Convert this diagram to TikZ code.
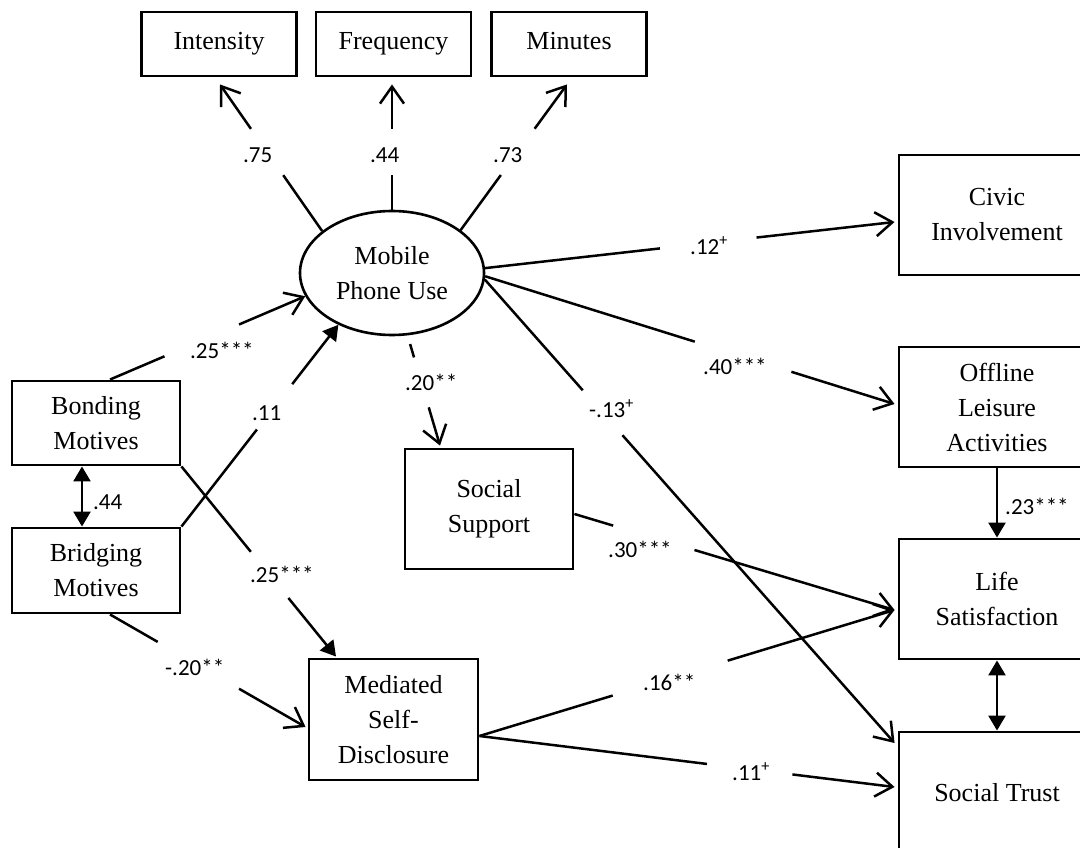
\documentclass[tikz,border=0pt]{standalone}
\usepackage{fontspec}
\setmainfont{Liberation Serif}
\newfontfamily\coeffont{Carlito}
\usetikzlibrary{arrows.meta,calc,shapes.geometric}

\newcommand\boxfont{\fontsize{26}{35}\selectfont}
\newcommand\labfont{\coeffont\fontsize{23}{26}\selectfont}

% A path interrupted by a gap for its coefficient:
% #1 options of the first piece, #2 options of the second piece,
% #3 start, #4 end, #5 and #6 fractions where the gap begins and ends
\newcommand\splitlink[6]{%
  \draw[link,#1] (#3) -- ($(#3)!#5!(#4)$);
  \draw[link,#2] ($(#3)!#6!(#4)$) -- (#4);
}

\tikzset{
  box/.style={draw, rectangle, line width=2.9pt, inner sep=0pt, align=center, font=\boxfont},
  topbox/.style={box, minimum width=155pt, minimum height=64pt, text height=18pt, text depth=6pt},
  sidebox/.style={box, minimum width=196pt, minimum height=120pt},
  midbox/.style={box, minimum width=168pt},
  link/.style={line width=2.5pt, line cap=butt},
  open/.style={-{Straight Barb[length=17pt,width=24pt]}},
  filledtip/.style={-{Triangle[length=15pt,width=17pt]}},
  filledboth/.style={{Triangle[length=15pt,width=17pt]}-{Triangle[length=15pt,width=17pt]}},
  coef/.style={font=\labfont, inner sep=0pt, anchor=base west},
}

\begin{document}
\begin{tikzpicture}[x=1pt,y=-1pt]
\useasboundingbox (0,0) rectangle (1080,848);
\clip (0,0) rectangle (1080,848);
\fill[white] (0,0) rectangle (1080,848);

% indicators
\node[topbox] (intensity) at (219,44) {Intensity};
\node[topbox] (frequency) at (393.5,44) {Frequency};
\node[topbox] (minutes) at (569,44) {Minutes};

% latent variable
\node[draw, ellipse, line width=2.6pt, minimum width=184pt, minimum height=124pt,
      inner sep=0pt, align=center, font=\boxfont] (mpu) at (392,273) {Mobile\\Phone Use};

% outcomes
\node[sidebox] (civic) at (997,215) {Civic\\Involvement};
\node[sidebox] (offline) at (997,407) {Offline\\Leisure\\Activities};
\node[sidebox] (life) at (997,599) {Life\\Satisfaction};
\node[sidebox, minimum height=122pt] (trust) at (997,793) {Social Trust};

% motives and mediators
\node[midbox, minimum height=84pt] (bonding) at (96,423) {Bonding\\Motives};
\node[midbox, minimum height=85pt] (bridging) at (96,570.5) {Bridging\\Motives};
\node[midbox, minimum height=120pt] (support) at (489,509) {Social\\Support};
\node[midbox, minimum width=169pt, minimum height=121pt] (mediated) at (393.5,719.5) {Mediated\\Self-\\Disclosure};

% end points of the paths
\coordinate (intIn) at ($(intensity.south)+(1,7)$);
\coordinate (freqIn) at ($(frequency.south)+(-1.5,7)$);
\coordinate (minIn) at ($(minutes.south)+(-2,7)$);
\coordinate (civIn) at ($(civic.west)+(-3,7)$);
\coordinate (offIn) at ($(offline.west)+(-3,-3)$);
\coordinate (lifeIn) at ($(life.west)+(-3,11)$);
\coordinate (trustInA) at ($(trust.west)+(-3,-50)$);
\coordinate (trustInB) at ($(trust.west)+(-3,-6)$);
\coordinate (supIn) at ($(support.north)+(-49,-2)$);
\coordinate (supOut) at ($(support.east)+(0,5)$);
\coordinate (medInTop) at ($(mediated.north)+(-57.5,-1)$);
\coordinate (medInSide) at ($(mediated.west)+(-2,7.5)$);
\coordinate (medOut) at ($(mediated.east)+(0,16.5)$);
\coordinate (bondOutTop) at ($(bonding.north)+(14,0)$);
\coordinate (bridOutBot) at ($(bridging.south)+(14,0)$);
\coordinate (freqOut) at (mpu.north);

% loadings
\splitlink{}{open}{mpu.149}{intIn}{0.381}{0.697}
\splitlink{}{open}{freqOut}{freqIn}{0.281}{0.648}
\splitlink{}{open}{mpu.32}{minIn}{0.378}{0.696}

% paths from mobile phone use
\splitlink{}{open}{mpu.3}{civIn}{0.427}{0.663}
\splitlink{}{open}{mpu.-2}{offIn}{0.512}{0.748}
\splitlink{}{open}{mpu.-4}{trustInA}{0.239}{0.336}
\splitlink{shorten <=9pt}{open}{mpu.-76}{supIn}{0.2}{0.653}

% paths into the outcomes
\splitlink{}{open}{supOut}{lifeIn}{0.121}{0.375}
\splitlink{}{open}{medOut}{lifeIn}{0.321}{0.598}
\splitlink{}{open}{medOut}{trustInB}{0.548}{0.754}

% paths from the motives
\splitlink{}{open}{bondOutTop}{mpu.195}{0.279}{0.661}
\splitlink{}{filledtip}{bridging.north east}{mpu.224}{0.481}{0.706}
\splitlink{}{filledtip}{bonding.south east}{medInTop}{0.449}{0.692}
\splitlink{}{open}{bridOutBot}{medInSide}{0.244}{0.66}

% unbroken paths
\draw[link, filledtip] (offline.south) -- (life.north);
\draw[link, filledboth] (life.south) -- (trust.north);
\draw[link, filledboth] ($(bonding.south)+(-14,0)$) -- ($(bridging.north)+(-14,0)$);

% coefficients
\node[coef] (c1) at (243,162.5) {.75};
\node[coef] (c2) at (370,162.5) {.44};
\node[coef] (c3) at (493,162.5) {.73};
\node[coef] (c4) at (690,254.5) {.12\textsuperscript{+}};
\node[coef] (c5) at (703,374.5) {.40***};
\node[coef] (c6) at (589,417.5) {-.13\textsuperscript{+}};
\node[coef] (c7) at (405,390.5) {.20**};
\node[coef] (c8) at (608,557.5) {.30***};
\node[coef] (c9) at (643,690.5) {.16**};
\node[coef] (c10) at (732,780.5) {.11\textsuperscript{+}};
\node[coef] (c11) at (190,358.5) {.25***};
\node[coef] (c12) at (252,420.5) {.11};
\node[coef] (c13) at (250,582.5) {.25***};
\node[coef] (c14) at (165,675.5) {-.20**};
\node[coef] (c15) at (93,509.5) {.44};
\node[coef] (c16) at (1005,514.5) {.23***};
\end{tikzpicture}
\end{document}
